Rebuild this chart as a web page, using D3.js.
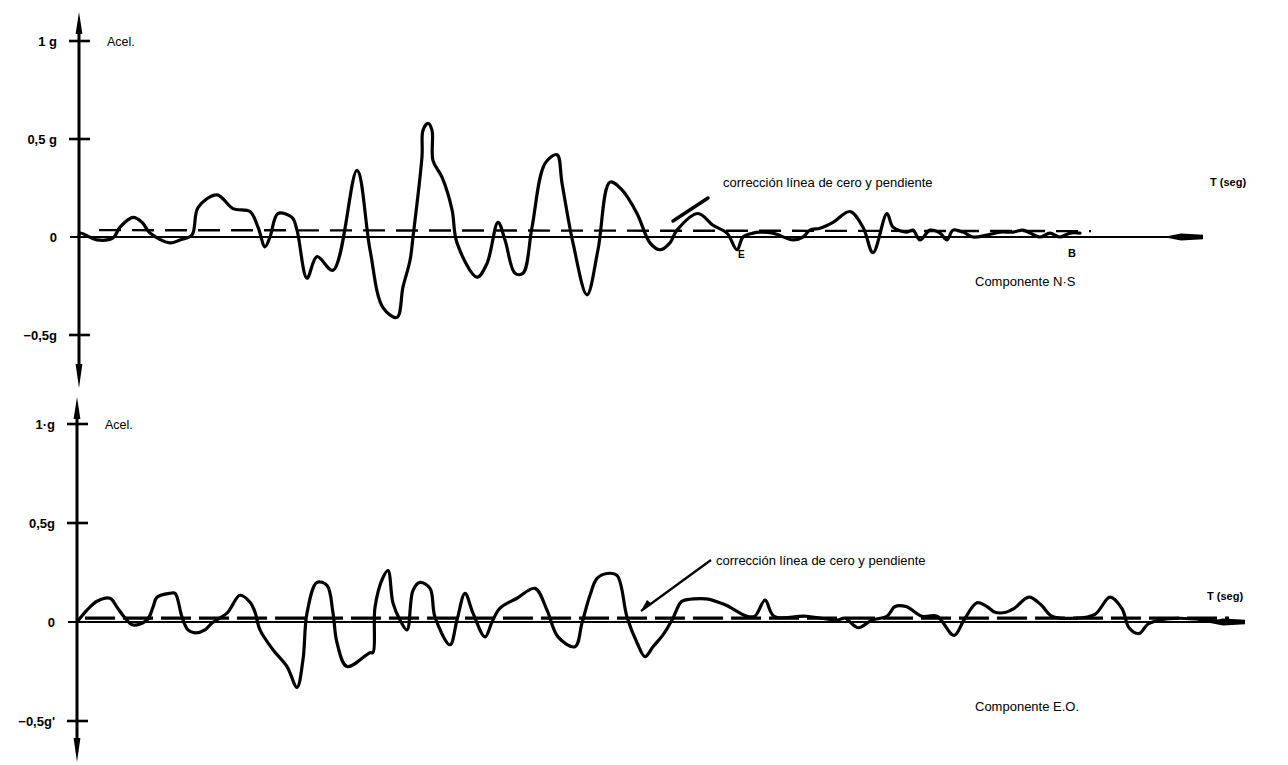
<!DOCTYPE html>
<html>
<head>
<meta charset="utf-8">
<script src="https://cdn.jsdelivr.net/npm/d3@7"></script>
<style>
  body { margin: 0; background: #fff; }
  svg { display: block; }
  text { font-family: "Liberation Sans", Arial, sans-serif; fill: #000; }
</style>
</head>
<body>
<svg id="chart" width="1288" height="765"></svg>
<script>
// Acceleration ticks (g) shared by both components
const accelTicks = [1, 0.5, 0, -0.5];
const nsTickLabels = ["1 g", "0,5 g", "0", "−0,5g"];
const eoTickLabels = ["1·g", "0,5g", "0", "−0,5g'"];

// Componente N-S: time (s) and acceleration (g)
const nsTime = [0, 0.05, 0.9, 1.7, 2.05, 2.7, 3.15, 3.55, 4.55, 5.05, 5.65, 5.95, 6.9, 7.7, 8.55, 8.95, 9.3, 9.55, 9.95, 10.65, 10.9, 11.4, 11.9, 12.7, 13.9, 14.55, 15.2, 15.9, 16.2, 16.55, 16.7, 17.15, 17.2, 17.45, 17.65, 17.7, 18.15, 18.65, 18.9, 19.9, 20.4, 20.95, 21.3, 21.8, 22.2, 22.65, 23.3, 23.9, 24.15, 24.7, 25.4, 25.95, 26.55, 27.15, 27.9, 28.55, 29.05, 29.55, 29.9, 30.95, 31.7, 32.4, 32.9, 33.2, 33.7, 34.05, 34.7, 35.7, 36.2, 36.55, 37.05, 37.7, 38.55, 39.2, 39.7, 40.4, 40.7, 41.4, 41.7, 42.05, 42.55, 43.05, 43.4, 43.7, 44.2, 44.7, 45.4, 46.05, 46.7, 47.2, 47.55, 48.05, 48.55, 49.05, 49.55, 50.05];
const nsAccel = [0, 0.02, -0.015, -0.005, 0.05, 0.1, 0.075, 0.02, -0.03, -0.015, 0.01, 0.15, 0.215, 0.145, 0.13, 0.05, -0.05, 0, 0.12, 0.1, 0.035, -0.21, -0.1, -0.17, 0.34, -0.065, -0.36, -0.41, -0.255, -0.12, 0, 0.41, 0.545, 0.58, 0.545, 0.39, 0.305, 0.14, -0.03, -0.205, -0.135, 0.075, -0.015, -0.185, -0.185, 0.05, 0.375, 0.42, 0.275, -0.03, -0.295, -0.065, 0.28, 0.24, 0.12, -0.03, -0.065, -0.03, 0.035, 0.12, 0.06, 0.02, -0.065, 0, 0.02, 0.025, 0.02, -0.015, 0, 0.035, 0.045, 0.075, 0.13, 0.05, -0.08, 0.12, 0.05, 0.025, 0.035, -0.015, 0.035, 0.02, -0.015, 0.035, 0.025, 0, 0.01, 0.025, 0.025, 0.035, 0.02, 0, 0.02, 0, 0.02, 0.02];

// Componente E.O.: time (s) and acceleration (g)
const eoTime = [0, 0.5, 1.0, 1.65, 2.0, 2.4, 2.8, 3.5, 3.8, 4.0, 4.65, 4.9, 5.25, 5.55, 5.9, 6.4, 6.75, 7.5, 8.15, 8.65, 8.9, 9.15, 9.8, 10.5, 11.0, 11.3, 11.5, 12.0, 12.5, 12.8, 13.0, 13.5, 14.65, 14.8, 14.9, 15.3, 15.55, 15.8, 16.15, 16.5, 16.8, 17.15, 17.65, 17.9, 18.65, 19.0, 19.4, 19.8, 20.4, 20.75, 21.15, 22.0, 22.9, 23.5, 24.05, 24.9, 25.25, 25.65, 26.0, 26.5, 27.0, 27.5, 28.0, 28.4, 28.8, 29.3, 29.75, 30.15, 30.3, 31.45, 32.4, 33.5, 33.9, 34.4, 34.85, 36.45, 38.0, 38.4, 39.05, 39.75, 40.5, 40.9, 41.45, 42.25, 43.0, 43.85, 44.35, 45.0, 45.5, 45.9, 46.45, 46.85, 47.6, 48.2, 48.75, 49.9, 50.9, 51.65, 52.25, 52.6, 53.1, 53.55, 54.15, 55.1, 56.45, 57.25];
const eoAccel = [0, 0.06, 0.105, 0.12, 0.075, 0.02, -0.015, 0.01, 0.075, 0.125, 0.145, 0.145, 0.025, -0.04, -0.055, -0.04, -0.005, 0.045, 0.135, 0.1, 0.05, -0.04, -0.14, -0.225, -0.33, -0.19, 0.045, 0.2, 0.185, 0.045, -0.105, -0.225, -0.155, -0.155, 0.075, 0.225, 0.26, 0.095, 0.01, -0.04, 0.16, 0.2, 0.17, 0.025, -0.115, 0.01, 0.145, 0.045, -0.075, 0, 0.07, 0.12, 0.17, 0.06, -0.075, -0.125, -0.005, 0.135, 0.22, 0.245, 0.235, 0.025, -0.105, -0.175, -0.125, -0.065, 0.01, 0.095, 0.107, 0.117, 0.087, 0.029, 0.03, 0.11, 0.029, 0.029, 0.01, 0.019, -0.029, 0.01, 0.029, 0.078, 0.078, 0.029, 0.029, -0.068, 0.01, 0.097, 0.078, 0.049, 0.049, 0.068, 0.126, 0.087, 0.029, 0.019, 0.039, 0.126, 0.068, -0.029, -0.058, -0.01, 0.01, 0.019, 0.01, 0];

// Corrected zero line (dashed): start/end time and level
const nsCorrTime = [1.0, 50.6];
const nsCorrAccel = [0.035, 0.03];
const eoCorrTime = [0.4, 57.6];
const eoCorrAccel = [0.02, 0.02];

const svg = d3.select("#chart");

function drawPanel(cfg) {
  const x = d3.scaleLinear().domain([0, 60]).range([cfg.x0, cfg.x0 + 1200]);
  const y = d3.scaleLinear().domain([-0.5, 1]).range(cfg.yRange);
  const g = svg.append("g");
  const y0 = y(0);

  // time axis (zero line) with arrow
  const xEnd = x(cfg.tEnd);
  g.append("line").attr("x1", cfg.x0 - 9).attr("x2", xEnd - 20)
    .attr("y1", y0).attr("y2", y0).attr("stroke", "#000").attr("stroke-width", 2.2);
  g.append("path")
    .attr("d", `M${xEnd - 40},${y0} L${xEnd - 22},${y0 - 3.4} L${xEnd},${y0 - 2.2} L${xEnd},${y0 + 2.2} L${xEnd - 22},${y0 + 3.4} Z`)
    .attr("fill", "#000");

  // corrected zero line (dashed)
  const corr = cfg.corrTime.map((t, i) => [t, cfg.corrAccel[i]]);
  g.append("path").datum(corr)
    .attr("d", d3.line().x(d => x(d[0])).y(d => y(d[1])))
    .attr("fill", "none").attr("stroke", "#000").attr("stroke-width", cfg.dashWidth)
    .attr("stroke-dasharray", cfg.dash);

  // acceleration axis with arrows at both ends
  const ax = cfg.x0;
  g.append("line").attr("x1", ax).attr("x2", ax).attr("y1", cfg.axisTop + 16).attr("y2", cfg.axisBottom - 16)
    .attr("stroke", "#000").attr("stroke-width", 3);
  g.append("path")
    .attr("d", `M${ax},${cfg.axisTop} L${ax + 3.4},${cfg.axisTop + 22} L${ax - 3.4},${cfg.axisTop + 22} Z`)
    .attr("fill", "#000");
  g.append("path")
    .attr("d", `M${ax},${cfg.axisBottom} L${ax + 3.4},${cfg.axisBottom - 24} L${ax - 3.4},${cfg.axisBottom - 24} Z`)
    .attr("fill", "#000");

  // ticks crossing the axis
  g.selectAll(".tick").data(accelTicks.filter(d => d !== 0)).join("line")
    .attr("x1", ax - 10).attr("x2", ax + 11)
    .attr("y1", d => y(d)).attr("y2", d => y(d))
    .attr("stroke", "#000").attr("stroke-width", 2.6);

  g.selectAll(".tlab").data(accelTicks).join("text")
    .attr("x", ax - 22).attr("y", d => y(d) + 5)
    .attr("text-anchor", "end").attr("font-size", 13).attr("font-weight", "bold")
    .text((d, i) => cfg.tickLabels[i]);

  g.append("text").attr("x", ax + 28).attr("y", y(1) + 5)
    .attr("font-size", 12.5).text("Acel.");

  // acceleration record
  const pts = cfg.time.map((t, i) => [t, cfg.accel[i]]);
  g.append("path").datum(pts)
    .attr("d", d3.line().x(d => x(d[0])).y(d => y(d[1])).curve(d3.curveCatmullRom.alpha(0.5)))
    .attr("fill", "none").attr("stroke", "#000").attr("stroke-width", 3.2)
    .attr("stroke-linejoin", "round").attr("stroke-linecap", "round");

  return { x, y, g };
}

// Componente N-S
const ns = drawPanel({
  x0: 79, yRange: [335, 41], axisTop: 12, axisBottom: 388, tEnd: 56.2,
  tickLabels: nsTickLabels, time: nsTime, accel: nsAccel,
  corrTime: nsCorrTime, corrAccel: nsCorrAccel, dash: "22 11", dashWidth: 2.4
});
ns.g.append("line").attr("x1", 673).attr("y1", 221).attr("x2", 708).attr("y2", 198)
  .attr("stroke", "#000").attr("stroke-width", 3.5).attr("stroke-linecap", "round");
ns.g.append("text").attr("x", 723).attr("y", 187).attr("font-size", 13).text("corrección línea de cero y pendiente");
ns.g.append("text").attr("x", 1210).attr("y", 186).attr("font-size", 11).attr("font-weight", "bold").text("T (seg)");
ns.g.append("text").attr("x", 975).attr("y", 286).attr("font-size", 13).text("Componente N·S");
ns.g.append("text").attr("x", 738).attr("y", 258).attr("font-size", 10).attr("font-weight", "bold").text("E");
ns.g.append("text").attr("x", 1068).attr("y", 257).attr("font-size", 11).attr("font-weight", "bold").text("B");

// Componente E.O.
const eo = drawPanel({
  x0: 77, yRange: [721, 424], axisTop: 397, axisBottom: 762, tEnd: 58.4,
  tickLabels: eoTickLabels, time: eoTime, accel: eoAccel,
  corrTime: eoCorrTime, corrAccel: eoCorrAccel, dash: "30 8", dashWidth: 3.2
});
eo.g.append("line").attr("x1", 641).attr("y1", 611).attr("x2", 711).attr("y2", 560)
  .attr("stroke", "#000").attr("stroke-width", 2.2);
eo.g.append("path").attr("d", "M641,611 L647,600 L652,604 Z").attr("fill", "#000");
eo.g.append("text").attr("x", 716).attr("y", 565).attr("font-size", 13).text("corrección línea de cero y pendiente");
eo.g.append("text").attr("x", 1207).attr("y", 600).attr("font-size", 11).attr("font-weight", "bold").text("T (seg)");
eo.g.append("text").attr("x", 975).attr("y", 711).attr("font-size", 13).text("Componente E.O.");
</script>
</body>
</html>
